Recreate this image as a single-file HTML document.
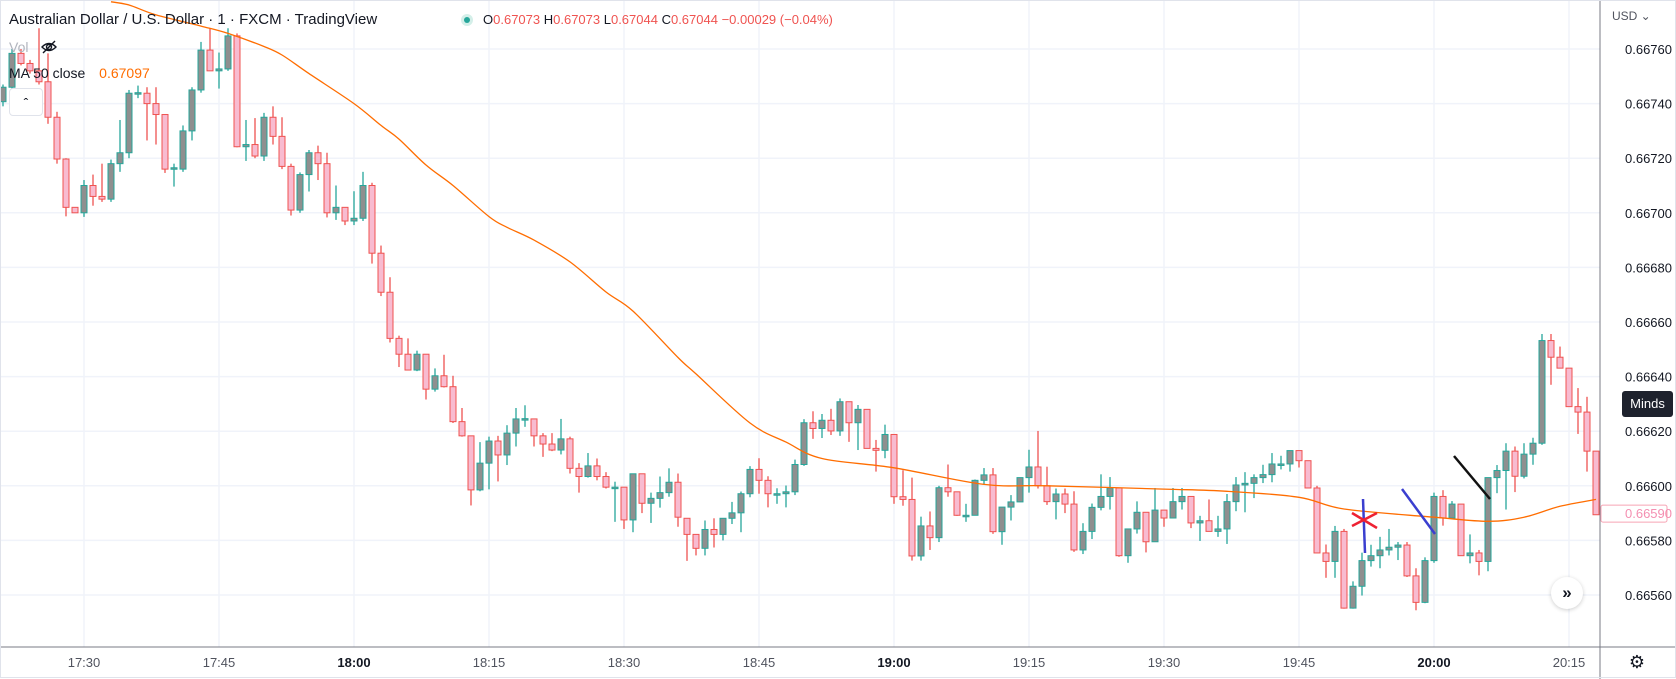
<!DOCTYPE html>
<html><head><meta charset="utf-8"><title>AUDUSD 1m</title>
<style>
html,body{margin:0;padding:0;background:#fff;}
body{width:1676px;height:679px;overflow:hidden;position:relative;font-family:"Liberation Sans",sans-serif;}
#chart{position:absolute;left:0;top:0;}
.lg{position:absolute;font-size:14px;color:#131722;white-space:nowrap;}
</style></head>
<body>
<svg id="chart" width="1676" height="679" xmlns="http://www.w3.org/2000/svg"></svg>

<div class="lg" style="left:9px;top:11px;font-size:15px;color:#131722;">Australian Dollar / U.S. Dollar · 1 · FXCM · TradingView</div>
<div style="position:absolute;left:461px;top:14px;width:12px;height:12px;border-radius:50%;background:#d4efe9;"><div style="position:absolute;left:3px;top:3px;width:6px;height:6px;border-radius:50%;background:#26a69a;"></div></div>
<div class="lg" style="left:483px;top:12px;font-size:13px;color:#ef5350;"><span style="color:#131722">O</span>0.67073 <span style="color:#131722">H</span>0.67073 <span style="color:#131722">L</span>0.67044 <span style="color:#131722">C</span>0.67044 −0.00029 (−0.04%)</div>
<div class="lg" style="left:9px;top:39px;font-size:14px;color:#b2b5be;">Vol</div>
<svg style="position:absolute;left:40px;top:38px" width="18" height="18" viewBox="0 0 18 18"><path d="M2 9 Q9 2 16 9 Q9 16 2 9Z" fill="none" stroke="#131722" stroke-width="1.4"/><circle cx="9" cy="9" r="2.5" fill="none" stroke="#131722" stroke-width="1.4"/><line x1="3" y1="15" x2="15" y2="3" stroke="#131722" stroke-width="1.4"/></svg>
<div class="lg" style="left:9px;top:65px;font-size:14px;color:#131722;">MA 50 close <span style="color:#ff6d00;margin-left:10px;">0.67097</span></div>
<div style="position:absolute;left:9px;top:88px;width:32px;height:26px;border:1px solid #e0e3eb;border-radius:4px;background:#fff;text-align:center;font-size:14px;line-height:28px;color:#131722;">&#710;</div>

<div class="lg" style="left:1612px;top:9px;font-size:12px;color:#50535e;">USD ⌄</div>
<div style="position:absolute;left:1622px;top:391px;width:51px;height:26px;background:#1e222d;border-radius:3px;color:#fff;font-size:13px;line-height:26px;text-align:center;">Minds</div>
<div style="position:absolute;left:1551px;top:577px;width:32px;height:32px;border-radius:50%;background:#fff;box-shadow:0 1px 4px rgba(0,0,0,0.2);text-align:center;line-height:31px;font-size:17px;color:#131722;font-weight:bold;">»</div>
<div style="position:absolute;left:1626px;top:651px;width:22px;height:22px;text-align:center;font-size:18px;line-height:22px;color:#131722;">⚙</div>

<script>
// Prices are expressed in points above 0.66000 (e.g. 740.7 => 0.667407)
const firstIndex = -9; // minutes relative to 17:30
const opens = [740.7,746,758.4,754.7,752,748,735,719.7,702,700,710,706,705,718,722,744,743.8,740,736,716,716,730,745,759.6,752,752.7,764.8,724.2,725,720.8,735,728,717,701,714,722,718,700,702,697,698,710,685.2,670.9,654,648.2,642.4,648.2,635.4,640.3,636.3,623.5,618.3,598.5,608.3,616.4,611.3,619.3,624.5,624.5,618.3,615.3,613.1,617.2,606.4,603.4,607.3,603.4,599.5,599.5,587.5,604.4,593.6,595.4,597.5,601.3,588.1,582.2,577.1,584,582.2,588.1,590.1,597.1,606,602,597.1,597.1,597.8,607.8,623.1,621,624,620.1,630.8,623.1,628,613.7,613,618.8,596,595,574.3,585.3,581,599.3,597.8,589.2,589.2,602,604,583.2,592.2,594.1,603,606.9,600,594.2,597,593.3,576.5,583.3,592.1,596.1,599.2,574.4,584.2,590.3,579.5,591.1,588.2,594.2,596.1,586.4,587.2,583.3,584.2,594.2,600.3,600.9,603,604.1,608,608,612.9,609.2,599.2,575.4,572.3,583.3,555.2,563.2,572.6,574.4,576.5,577.5,578.3,567,557.3,572.6,596.1,588.2,593.3,574.4,575.4,572.3,603,605.6,612.7,603.5,611.6,615.6,653.2,647.1,643.1,629,627,612.7];
const highs = [747,760,760,756,767.6,758.4,737,720,702,712,714,718,719.5,734,745,746.6,746,746,736,718,732,746,762.6,767.6,758.7,767.6,765.7,734,734.7,736.6,739,735,718,714.8,723,724.6,722,710,702,707.9,715,711,688,676.4,655,654,649.5,648.2,643,648,640.3,628.5,618.3,616,618,618.3,622.2,628.5,629.5,624.5,619.3,619.3,624.5,618,608.3,612,610,605,601.5,599.5,604.4,604.4,597.5,603.4,606.4,604.5,588.1,582.2,587.3,588.1,588.1,594.1,597.9,607.2,610.1,603.5,599.1,600.1,609.6,624.4,627.3,626.3,628.2,632,630.8,629.6,628,616.8,622.4,618.8,605.7,603,588.7,590.6,600,607.8,597.8,593.4,602.3,606.5,606.5,592.2,596.6,603,613.2,620.1,607,599,599,598,586.3,593.5,604.2,603.2,599.2,584.2,594.3,590.3,599.2,591.1,599.2,599.2,596.1,589,595,589,597,603.2,605,604.2,607.7,612,611,612.9,612.9,609.2,600,578.5,585.3,584.2,565,575.5,578.4,581.3,584.2,579.4,579.4,569.8,573.8,597.5,598.4,594.4,593.3,582.2,576.5,603,607.6,615.6,614.4,615.6,617.6,655.6,655.6,651,643.1,635.8,632.6,612.7];
const lows = [739,745,754,751,747,732.6,718,698.7,700,698.5,702.6,704,704,715,720,742,726.5,725,714.6,709.6,715,726.5,744,752,745.5,752,724,719,720,719,725,716,699,700,707.8,712,698.3,697.4,695.5,695.5,697,681.4,669.5,652.5,643.5,642.4,642,631.6,634.5,636,623,618,592.8,598,598.7,601.6,607.6,614.4,621.6,614.4,610.6,612.7,611.5,604.5,597.5,603,602,599,586.8,584.2,583,590,586.4,592,596,585,572.5,574.5,574.5,577.4,580,586,583,595.8,597.1,592.1,593.4,592.1,596.6,607.3,617.2,617.5,618.6,618.3,616.1,613.1,613.7,605.2,610.1,593.4,592.7,572.6,572.6,576.5,579.4,596,589,586.8,589.2,600.5,582.4,578.4,587.3,594.1,597.5,599,593,587.7,590,575.8,575,580.5,591,591.3,574,571.8,582.5,575.6,579.5,585,588.2,591.3,584.5,579.8,583.3,581.3,578.7,590.7,590.3,595.5,601,601.3,606,605.2,606.7,599.2,575.4,566.3,566.3,555,555,559.8,570.4,569.8,574.5,572.8,566.6,554.4,557,571.8,585.4,588.2,574.4,571.6,567.2,568.7,597.3,591.3,597.7,602.7,607.7,615,637,643.1,629,619,605.2,589.4];
const closes = [746,758.4,754.7,752,748,735,719.7,702,700,710,706,705,718,722,743.8,744,740,736,716,716.5,730,745,759.6,752,752.7,764.8,724.2,725,720.8,735,728,717,701,714,722,718,700,702,697,698,710,685.2,670.9,654,648.2,642.4,648.2,635.4,640.3,636.3,623.5,618.3,598.5,608.3,616.4,611.3,619.3,624.5,624.6,618.3,615.3,613.1,617.2,606.4,603.4,607.3,603.4,599.5,599.5,587.5,604.4,593.6,595.4,597.5,601.3,588.5,582.2,577.1,584,582.2,588.1,590.1,597.1,606,602,597.1,597.1,597.8,607.8,623.1,621,624,620.1,630.8,623.1,628,613.7,613,618.8,596,595,574.3,585.3,581,599.3,597.8,589.2,589.2,602,604,583.2,592.2,594.1,603,606.9,600,594.2,597,593.3,576.5,583.3,592.1,596.1,599.2,574.4,584.2,590.3,579.5,591.1,588.2,594.2,596.1,586.4,587.2,583.3,584.2,594.2,600.3,600.9,603,604.1,608,608,612.9,609.2,599.2,575.4,572.3,583.3,555.2,563.2,572.6,574.4,576.5,577.5,578.3,567,557.3,572.6,596.1,588.2,593.3,574.4,575.4,572.3,603,605.6,612.7,603.5,611.6,615.6,653.2,647.1,643.1,629,627,612.7,589.4];
const maIdx = [3,5,8,13,16,20,22,25,30,33,35,38,41,45,47,50,54,58,61,66,68,74,78,82,90,100,107,120,127,135,140,150,156,160,164,168];
const maVal = [777.3,776.1,772.5,768.4,765.7,760.9,757.8,751,740,732,727,717.5,710,698.6,694.7,690,682,671,664,647,641,623,616,610,606.6,600.5,600,598.8,598,595.8,591.5,588.5,587,588.5,592.5,595];
const priceTicks = [760,740,720,700,680,660,640,620,600,580,560];
const timeTicks = ["17:30","17:45","18:00","18:15","18:30","18:45","19:00","19:15","19:30","19:45","20:00","20:15"];
const boldTimes = ["18:00","19:00","20:00"];
const lastPrice = 590;

const NS = "http://www.w3.org/2000/svg";
const svg = document.getElementById("chart");
const PLOT_R = 1600, PLOT_B = 647;
function xOf(i){ return 84 + i*9; }
function yOf(p){ return 49 + (760 - p)*2.73; }
function mk(tag, attrs, parent){
  const e = document.createElementNS(NS, tag);
  for (const k in attrs) e.setAttribute(k, attrs[k]);
  (parent||svg).appendChild(e);
  return e;
}

// grid
const grid = mk("g", {});


priceTicks.forEach(p => {
  const ln = mk("line", {x1:0, x2:PLOT_R, y1:yOf(p), y2:yOf(p), stroke:"#f0f3fa", "stroke-width":1.5}, grid);
  
  
  const t = mk("text", {x:1625, y:yOf(p)+5, "font-size":13, fill:"#131722", "font-family":"Liberation Sans, sans-serif"});
  t.textContent = "0.66" + String(p);
  
  
});
timeTicks.forEach((lab, k) => {
  const x = xOf(k*15);
  const ln = mk("line", {x1:x, x2:x, y1:0, y2:PLOT_B, stroke:"#f0f3fa", "stroke-width":1.5}, grid);
  
  
  const t = mk("text", {x:x, y:667, "font-size":13, "text-anchor":"middle", fill: boldTimes.includes(lab) ? "#131722" : "#50535e", "font-weight": boldTimes.includes(lab) ? "bold" : "normal", "font-family":"Liberation Sans, sans-serif"});
  t.textContent = lab;
  
  
});

// candles
const cg = mk("g", {});


for (let k = 0; k < opens.length; k++){
  const i = firstIndex + k;
  const x = xOf(i);
  if (x > PLOT_R - 3) continue;
  const o = opens[k], c = closes[k], h = highs[k], l = lows[k];
  const up = c >= o;
  const line = up ? "#26a69a" : "#ef5350";
  const fill = up ? "#8f8f8f" : "#f8bbd0";
  const g = mk("g", {}, cg);
  
  
  mk("line", {x1:x, x2:x, y1:yOf(h), y2:yOf(l), stroke:line, "stroke-width":1.3}, g);
  const top = yOf(Math.max(o,c)), bot = yOf(Math.min(o,c));
  mk("rect", {x:x-3, y:top, width:6, height:Math.max(bot-top,1.5), fill:fill, stroke:line, "stroke-width":1}, g);
}

// moving average (smoothed through sampled points)
const pts = maIdx.map((i, k) => [xOf(i), yOf(maVal[k])]);
let d = "M" + pts[0][0].toFixed(1) + " " + pts[0][1].toFixed(1);
for (let k = 0; k < pts.length - 1; k++){
  const p0 = pts[Math.max(k-1,0)], p1 = pts[k], p2 = pts[k+1], p3 = pts[Math.min(k+2, pts.length-1)];
  const c1x = p1[0] + (p2[0]-p0[0])/6, c1y = p1[1] + (p2[1]-p0[1])/6;
  const c2x = p2[0] - (p3[0]-p1[0])/6, c2y = p2[1] - (p3[1]-p1[1])/6;
  d += " C" + c1x.toFixed(1) + " " + c1y.toFixed(1) + " " + c2x.toFixed(1) + " " + c2y.toFixed(1) + " " + p2[0].toFixed(1) + " " + p2[1].toFixed(1);
}
const ma = mk("path", {d:d, fill:"none", stroke:"#ff6d00", "stroke-width":1.3});



// drawings
const dr = mk("g", {});


const l1 = mk("line", {x1:1363, y1:499, x2:1365, y2:553, stroke:"#3b3fcf", "stroke-width":2.5}, dr);


const x1 = mk("path", {d:"M1352 513 L1377 528 M1352 526 L1377 513", stroke:"#ee2233", "stroke-width":2.5, fill:"none"}, dr);


const l2 = mk("line", {x1:1402, y1:489, x2:1435, y2:534, stroke:"#3b3fcf", "stroke-width":2.5}, dr);


const l3 = mk("line", {x1:1454, y1:456, x2:1490, y2:499, stroke:"#111", "stroke-width":2.5}, dr);



// axes borders
const ax1 = mk("line", {x1:PLOT_R, x2:PLOT_R, y1:0, y2:679, stroke:"#787b86", "stroke-width":1});


const ax2 = mk("line", {x1:0, x2:1676, y1:PLOT_B, y2:PLOT_B, stroke:"#787b86", "stroke-width":1});


const fr = mk("rect", {x:0.5, y:0.5, width:1675, height:677, fill:"none", stroke:"#e0e3eb", "stroke-width":1});



// last price label
const lp = mk("g", {});


mk("rect", {x:1601, y:yOf(lastPrice)-8, width:66, height:17, fill:"#fff", stroke:"#f7a5b5", "stroke-width":1, rx:2}, lp);
const lpt = mk("text", {x:1625, y:yOf(lastPrice)+5, "font-size":13, fill:"#f48fb1", "font-family":"Liberation Sans, sans-serif"}, lp);
lpt.textContent = "0.66590";
</script>
</body></html>
